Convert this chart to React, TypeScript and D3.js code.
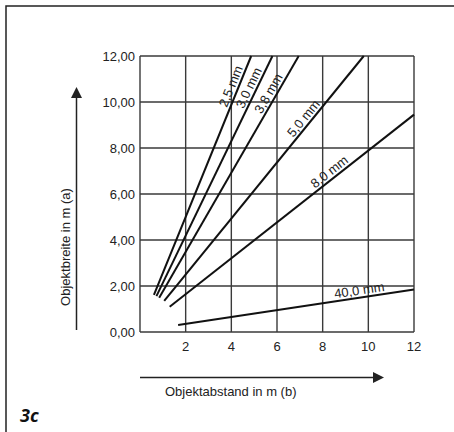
import React, { useEffect, useRef } from 'react';
import * as d3 from 'd3';

// lens focal lengths and the line each one draws (distance b -> width a)
const lensLabels = ['2,5 mm', '3,0 mm', '3,8 mm', '5,0 mm', '8,0 mm', '40,0 mm'];
const startDist = [0.61, 0.72, 0.84, 1.06, 1.3, 1.67];
const startWidth = [1.61, 1.56, 1.49, 1.35, 1.1, 0.3];
const endDist = [4.87, 5.8, 6.95, 9.8, 12, 12];
const endWidth = [12, 12, 12, 12, 9.45, 1.85];
const labelDist = [4.28, 5.06, 5.91, 7.41, 8.49, 9.65];

const xTicks = [2, 4, 6, 8, 10, 12];
const yTicks = [0, 2, 4, 6, 8, 10, 12];

const FONT = '"Liberation Sans", Arial, sans-serif';

const App: React.FC = () => {
  const svgRef = useRef<SVGSVGElement>(null);

  useEffect(() => {
    if (!svgRef.current) return;
    const svg = d3.select(svgRef.current);
    svg.selectAll('*').remove();

    const x = d3.scaleLinear().domain([0, 12]).range([140, 414]);
    const y = d3.scaleLinear().domain([0, 12]).range([332, 56]);

    // outer frame (top and left only)
    svg.append('path')
      .attr('d', 'M6,432 L6,6 L454,6')
      .attr('fill', 'none')
      .attr('stroke', '#222')
      .attr('stroke-width', 1.5);

    // grid
    const grid = svg.append('g').attr('stroke', '#3a3a3a').attr('stroke-width', 1.4);
    [0, ...xTicks].forEach(t => {
      grid.append('line')
        .attr('x1', x(t)).attr('x2', x(t))
        .attr('y1', y(0)).attr('y2', y(12));
    });
    yTicks.forEach(t => {
      grid.append('line')
        .attr('x1', x(0)).attr('x2', x(12))
        .attr('y1', y(t)).attr('y2', y(t));
    });

    // tick labels
    svg.append('g')
      .attr('font-family', FONT)
      .attr('font-size', 13)
      .attr('fill', '#222')
      .attr('text-anchor', 'end')
      .selectAll('text')
      .data(yTicks)
      .join('text')
        .attr('x', x(0) - 5)
        .attr('y', d => y(d))
        .attr('dy', '0.35em')
        .text(d => d3.format('.2f')(d).replace('.', ','));

    svg.append('g')
      .attr('font-family', FONT)
      .attr('font-size', 13)
      .attr('fill', '#222')
      .attr('text-anchor', 'middle')
      .selectAll('text')
      .data(xTicks)
      .join('text')
        .attr('x', d => x(d))
        .attr('y', y(0) + 19)
        .text(d => d);

    // lens lines
    const lines = svg.append('g')
      .attr('stroke', '#111')
      .attr('stroke-width', 2)
      .attr('fill', 'none');
    lensLabels.forEach((_, i) => {
      lines.append('line')
        .attr('x1', x(startDist[i])).attr('y1', y(startWidth[i]))
        .attr('x2', x(endDist[i])).attr('y2', y(endWidth[i]));
    });

    // rotated labels along the lines
    const labels = svg.append('g')
      .attr('font-family', FONT)
      .attr('font-size', 13)
      .attr('fill', '#222')
      .attr('text-anchor', 'middle');
    lensLabels.forEach((label, i) => {
      const slope = (endWidth[i] - startWidth[i]) / (endDist[i] - startDist[i]);
      const lw = startWidth[i] + slope * (labelDist[i] - startDist[i]);
      const px = x(labelDist[i]);
      const py = y(lw);
      const dx = x(endDist[i]) - x(startDist[i]);
      const dy = y(endWidth[i]) - y(startWidth[i]);
      const angle = (Math.atan2(dy, dx) * 180) / Math.PI;
      labels.append('text')
        .attr('transform', `translate(${px},${py}) rotate(${angle})`)
        .attr('y', -3)
        .text(label);
    });

    // axis arrows
    svg.append('line')
      .attr('x1', 76.5).attr('x2', 76.5)
      .attr('y1', 330).attr('y2', 96)
      .attr('stroke', '#222').attr('stroke-width', 1.5);
    svg.append('path')
      .attr('d', 'M76.5,87 L82,98 L71,98 Z')
      .attr('fill', '#222');

    svg.append('line')
      .attr('x1', 140).attr('x2', 374)
      .attr('y1', 377.5).attr('y2', 377.5)
      .attr('stroke', '#222').attr('stroke-width', 1.5);
    svg.append('path')
      .attr('d', 'M384,377.5 L373,372 L373,383 Z')
      .attr('fill', '#222');

    // axis titles
    svg.append('text')
      .attr('transform', 'translate(69.5,247) rotate(-90)')
      .attr('text-anchor', 'middle')
      .attr('font-family', FONT)
      .attr('font-size', 13)
      .attr('fill', '#222')
      .text('Objektbreite in m (a)');

    svg.append('text')
      .attr('x', 165)
      .attr('y', 396)
      .attr('font-family', FONT)
      .attr('font-size', 13)
      .attr('fill', '#222')
      .text('Objektabstand in m (b)');

    svg.append('text')
      .attr('x', 20)
      .attr('y', 422)
      .attr('font-family', '"Open Sans", "DejaVu Sans", sans-serif')
      .attr('font-size', 18)
      .attr('font-weight', 'bold')
      .attr('font-style', 'italic')
      .attr('fill', '#111')
      .text('3c');
  }, []);

  return (
    <svg
      ref={svgRef}
      width={454}
      height={432}
      style={{ position: 'absolute', left: 0, top: 0, background: '#fff' }}
    />
  );
};

export default App;
